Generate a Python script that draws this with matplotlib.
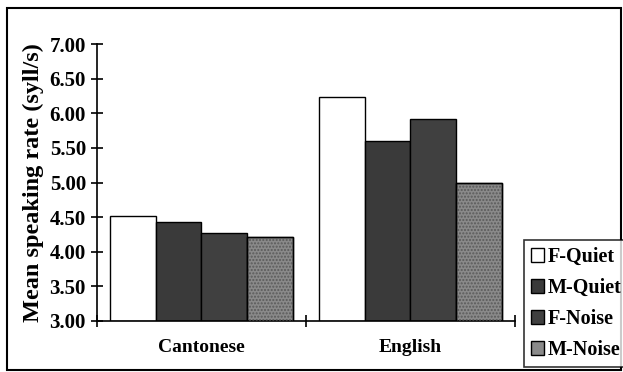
import numpy as np
import matplotlib.pyplot as plt
from matplotlib.patches import Rectangle

plt.rcParams['font.family'] = ['Liberation Serif', 'DejaVu Serif']
plt.rcParams['font.weight'] = 'bold'

languages = ['Cantonese', 'English']
series = ['F-Quiet', 'M-Quiet', 'F-Noise', 'M-Noise']
f_quiet = [4.52, 6.24]
m_quiet = [4.43, 5.60]
f_noise = [4.27, 5.91]
m_noise = [4.21, 5.00]
yticks = [3.0, 3.5, 4.0, 4.5, 5.0, 5.5, 6.0, 6.5, 7.0]

colors = ['white', '#3a3a3a', '#404040', '#8a8a8a']
values = [f_quiet, m_quiet, f_noise, m_noise]

fig = plt.figure(figsize=(6.23, 3.72), dpi=100)
ax = fig.add_axes([0.1557, 0.1371, 0.6709, 0.7446])

x = np.arange(len(languages))
w = 0.22
handles = []
for i, (name, vals, c) in enumerate(zip(series, values, colors)):
    pos = x + (i - 1.5) * w
    b = ax.bar(pos, np.array(vals) - 3.0, w, bottom=3.0, color=c,
               edgecolor='black', linewidth=1.0, label=name, zorder=2)
    if name == 'M-Noise':
        # speckled texture of the scanned grey bars
        ax.bar(pos, np.array(vals) - 3.0, w, bottom=3.0, color='none',
               edgecolor='#5a5a5a', hatch='.....', linewidth=0, zorder=3)
        ax.bar(pos, np.array(vals) - 3.0, w, bottom=3.0, color='none',
               edgecolor='black', linewidth=1.0, zorder=4)
    handles.append(b)

ax.set_xlim(-0.5, 1.5)
ax.set_ylim(3.0, 7.0)
ax.set_yticks(yticks)
ax.set_yticklabels([f'{v:.2f}' for v in yticks], fontsize=15)
ax.set_xticks([-0.5, 0.5, 1.5])
ax.set_xticklabels([])
ax.tick_params(axis='both', direction='inout', length=8, width=1.2)
ax.tick_params(axis='y', pad=4)
for i, lang in enumerate(languages):
    ax.text(x[i], 2.62, lang, ha='center', va='center', fontsize=14,
            fontweight='bold')

ax.spines['top'].set_visible(False)
ax.spines['right'].set_visible(False)
ax.spines['left'].set_linewidth(1.2)
ax.spines['bottom'].set_linewidth(1.2)
ax.set_ylabel('Mean speaking rate (syll/s)', fontsize=17.5, fontweight='bold',
              labelpad=4)

leg = fig.legend(handles=handles, labels=series, loc='upper left',
                 bbox_to_anchor=(524 / 623, 1 - 240 / 372), fontsize=14.5,
                 frameon=True, fancybox=False, edgecolor='black',
                 handlelength=0.65, handleheight=0.65, handletextpad=0.2,
                 labelspacing=0.55, borderpad=0.35, borderaxespad=0)
leg.get_frame().set_linewidth(1.2)

fig.patches.append(Rectangle((7 / 623, 1 - 370 / 372), 614 / 623, 362 / 372,
                             transform=fig.transFigure, fill=False,
                             edgecolor='black', linewidth=1.5))

fig.savefig('out.png', dpi=100)
